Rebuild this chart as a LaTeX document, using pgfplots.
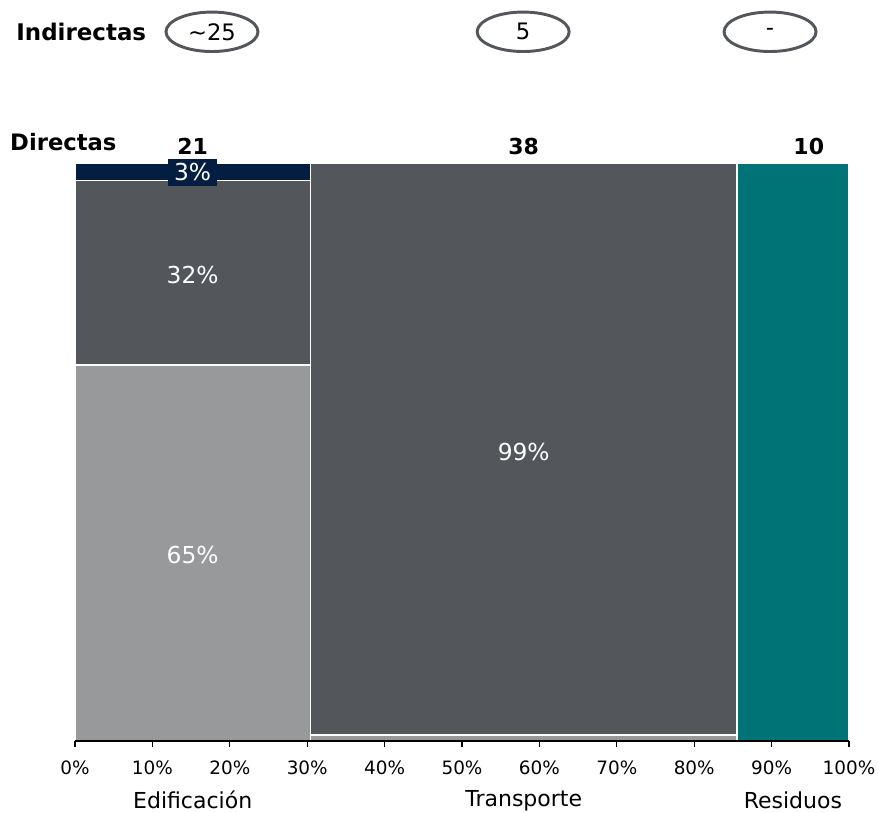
\documentclass[border=0pt]{standalone}
\usepackage{pgfplots}
\pgfplotsset{compat=1.18}
\usepackage{fontspec}
\setmainfont{DejaVu Sans}
\definecolor{navy}{HTML}{041E42}
\definecolor{dgray}{HTML}{53565A}
\definecolor{lgray}{HTML}{97999B}
\definecolor{teal2}{HTML}{007377}
\begin{document}
\begin{tikzpicture}
\useasboundingbox (-56.25pt,-54pt) rectangle (602.25pt,555.75pt);
\begin{axis}[
  at={(0,0)}, anchor=south west,
  scale only axis, width=580.5pt, height=433.5pt,
  xmin=0, xmax=100, ymin=0, ymax=100,
  axis y line=none, axis x line*=bottom,
  axis on top,
  x axis line style={black, line width=1pt},
  xtick={0,10,...,100},
  xticklabel={\pgfmathprintnumber{\tick}\%},
  xtick align=outside, major tick length=4.5pt,
  xtick style={black, line width=1pt},
  ticklabel style={font=\fontsize{13.8}{16}\selectfont},
  /pgf/number format/assume math mode=true,
  xticklabel style={yshift=-6.5pt},
  clip=false,
]
% Edificacion (0 - 30.43)
\addplot[fill=lgray, draw=white, line width=1.2pt] coordinates {(0,0) (30.43,0) (30.43,65) (0,65)} -- cycle;
\addplot[fill=dgray, draw=white, line width=1.2pt] coordinates {(0,65) (30.43,65) (30.43,97) (0,97)} -- cycle;
\addplot[fill=navy, draw=white, line width=1.2pt] coordinates {(0,97) (30.43,97) (30.43,100) (0,100)} -- cycle;
% Transporte (30.43 - 85.51)
\addplot[fill=lgray, draw=white, line width=1.2pt] coordinates {(30.43,0) (85.51,0) (85.51,1) (30.43,1)} -- cycle;
\addplot[fill=dgray, draw=white, line width=1.2pt] coordinates {(30.43,1) (85.51,1) (85.51,100) (30.43,100)} -- cycle;
% Residuos (85.51 - 100)
\addplot[fill=teal2, draw=white, line width=1.2pt] coordinates {(85.51,0) (100,0) (100,100) (85.51,100)} -- cycle;

% percentage labels
\node[text=white, fill=navy, inner sep=0pt, minimum width=36.75pt, minimum height=20pt, font=\fontsize{17.5}{19}\selectfont] at (axis cs:15.2,98.4) {3\%};
\node[text=white, font=\fontsize{17.5}{19}\selectfont] at (axis cs:15.2,80.6) {32\%};
\node[text=white, font=\fontsize{17.5}{19}\selectfont] at (axis cs:15.2,32.2) {65\%};
\node[text=white, font=\fontsize{17.5}{19}\selectfont] at (axis cs:57.97,50) {99\%};

% totals
\node[font=\bfseries\fontsize{16.5}{18}\selectfont] at (axis cs:15.2,102.8) {21};
\node[font=\bfseries\fontsize{16.5}{18}\selectfont] at (axis cs:57.97,102.8) {38};
\node[font=\bfseries\fontsize{16.5}{18}\selectfont] at (axis cs:94.8,102.8) {10};
\node[font=\bfseries\fontsize{17}{18}\selectfont, anchor=west, inner sep=0pt] at (axis cs:-8.4,103.6) {Directas};

% indirectas
\node[font=\bfseries\fontsize{17.2}{18}\selectfont, anchor=west, inner sep=0pt] at (axis cs:-7.6,122.7) {Indirectas};
\draw[dgray, line width=2.2pt] (axis cs:17.7,122.7) ellipse [x radius=34.5pt, y radius=14.8pt];
\draw[dgray, line width=2.2pt] (axis cs:57.9,122.7) ellipse [x radius=34.5pt, y radius=14.8pt];
\draw[dgray, line width=2.2pt] (axis cs:89.8,122.7) ellipse [x radius=34.5pt, y radius=14.8pt];
\node[font=\fontsize{17}{19}\selectfont] at (axis cs:17.7,122.7) {\textasciitilde25};
\node[font=\fontsize{17}{19}\selectfont] at (axis cs:57.9,122.7) {5};
\node[font=\fontsize{17}{19}\selectfont] at (axis cs:89.8,122.7) {-};

% category labels
\node[font=\fontsize{16.5}{18}\selectfont] at ([yshift=-44.5pt]axis cs:15.2,0) {Edificación};
\node[font=\fontsize{16.5}{18}\selectfont] at ([yshift=-44.5pt]axis cs:57.97,0) {Transporte};
\node[font=\fontsize{16.5}{18}\selectfont] at ([yshift=-44.5pt]axis cs:92.75,0) {Residuos};
\end{axis}
\end{tikzpicture}
\end{document}
